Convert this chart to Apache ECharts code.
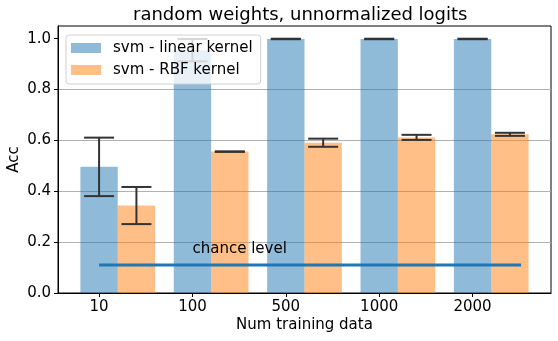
<!DOCTYPE html>
<html>
<head>
<meta charset="utf-8">
<script src="https://cdn.jsdelivr.net/npm/echarts@6/dist/echarts.min.js"></script>
<style>
  html, body { margin: 0; padding: 0; background: #fff; }
  #chartBox { width: 558px; height: 341px; }
</style>
</head>
<body>
<div id="chartBox"></div>
<script>
    // x categories (number of training samples)
    var categories = ['10', '100', '500', '1000', '2000'];
    // accuracy means and std
    var linearAcc = [0.496, 0.955, 0.999, 0.999, 0.999];
    var linearStd = [0.115, 0.044, 0.001, 0.001, 0.001];
    var rbfAcc = [0.344, 0.556, 0.591, 0.612, 0.624];
    var rbfStd = [0.073, 0.001, 0.016, 0.010, 0.006];
    var chanceLevel = 0.11;
    var chanceSpan = [0, 4.52];
    var yTicks = [0, 0.2, 0.4, 0.6, 0.8, 1.0];
    var xTicks = [0, 1, 2, 3, 4];

    var barW = 0.4;
    var font = 'DejaVu Sans';

    var linearData = [], rbfData = [], errData = [];
    for (var i = 0; i < categories.length; i++) {
        linearData.push([i, linearAcc[i]]);
        rbfData.push([i + barW, rbfAcc[i]]);
        errData.push([i, linearAcc[i] - linearStd[i], linearAcc[i] + linearStd[i]]);
        errData.push([i + barW, rbfAcc[i] - rbfStd[i], rbfAcc[i] + rbfStd[i]]);
    }

    function renderBar(params, api) {
        var x = api.value(0);
        var p0 = api.coord([x - barW / 2, api.value(1)]);
        var p1 = api.coord([x + barW / 2, 0]);
        return {
            type: 'rect',
            shape: { x: p0[0], y: p0[1], width: p1[0] - p0[0], height: p1[1] - p0[1] },
            style: { fill: api.visual('color') }
        };
    }

    function renderErr(params, api) {
        var x = api.value(0);
        var lo = api.coord([x, api.value(1)]);
        var hi = api.coord([x, api.value(2)]);
        var cap = 15;
        var st = { stroke: '#333', lineWidth: 2 };
        return {
            type: 'group',
            children: [
                { type: 'line', shape: { x1: lo[0], y1: lo[1], x2: hi[0], y2: hi[1] }, style: st },
                { type: 'line', shape: { x1: lo[0] - cap, y1: lo[1], x2: lo[0] + cap, y2: lo[1] }, style: st },
                { type: 'line', shape: { x1: hi[0] - cap, y1: hi[1], x2: hi[0] + cap, y2: hi[1] }, style: st }
            ]
        };
    }

    var chart = echarts.init(document.getElementById('chartBox'));
    chart.setOption({
        animation: false,
        textStyle: { fontFamily: font },
        graphic: [{
            type: 'text',
            left: 133,
            top: 6,
            style: { text: 'random weights, unnormalized logits', font: '18px "DejaVu Sans"', fill: '#000' }
        }],
        grid: {
            left: 58, right: 7, top: 26, bottom: 48,
            outerBoundsMode: 'none',
            containLabel: false,
            show: true, borderColor: '#000', borderWidth: 1, backgroundColor: 'transparent'
        },
        legend: {
            orient: 'vertical',
            left: 66, top: 35,
            padding: [4, 8, 5, 5],
            itemGap: 4,
            itemWidth: 30, itemHeight: 10,
            backgroundColor: 'rgba(255,255,255,0.8)',
            borderColor: '#d0d0d0', borderWidth: 1, borderRadius: 3,
            textStyle: { fontFamily: font, fontSize: 15, color: '#000', lineHeight: 18, padding: [0, 0, 0, 7] },
            data: [
                { name: 'svm - linear kernel', icon: 'rect' },
                { name: 'svm - RBF kernel', icon: 'rect' }
            ]
        },
        xAxis: {
            type: 'value',
            min: -0.44, max: 4.84,
            name: 'Num training data',
            nameLocation: 'middle',
            nameGap: 25,
            nameMoveOverlap: false,
            nameTextStyle: { fontFamily: font, fontSize: 15, color: '#000' },
            axisLine: { show: true, onZero: false, lineStyle: { color: '#000', width: 1 } },
            axisTick: { show: true, length: 4, customValues: xTicks, lineStyle: { color: '#000' } },
            axisLabel: {
                customValues: xTicks, margin: 7,
                fontFamily: font, fontSize: 15, color: '#000',
                formatter: function (v) { return categories[Math.round(v)]; }
            },
            splitLine: { show: false }
        },
        yAxis: {
            type: 'value',
            min: 0, max: 1.05,
            name: 'Acc',
            nameLocation: 'middle',
            nameRotate: 90,
            nameGap: 36,
            nameMoveOverlap: false,
            nameTextStyle: { fontFamily: font, fontSize: 15, color: '#000' },
            axisLine: { show: true, onZero: false, lineStyle: { color: '#000', width: 1 } },
            axisTick: { show: true, length: 4, customValues: yTicks, lineStyle: { color: '#000' } },
            axisLabel: {
                customValues: yTicks, margin: 7,
                fontFamily: font, fontSize: 15, color: '#000',
                formatter: function (v) { return v.toFixed(1); }
            },
            splitLine: { show: true, showMinLine: false, showMaxLine: false, lineStyle: { color: '#b0b0b0', width: 1 } }
        },
        series: [
            {
                name: 'svm - linear kernel',
                type: 'custom',
                renderItem: renderBar,
                itemStyle: { color: 'rgba(31,119,180,0.5)' },
                encode: { x: 0, y: 1 },
                data: linearData,
                z: 2
            },
            {
                name: 'svm - RBF kernel',
                type: 'custom',
                renderItem: renderBar,
                itemStyle: { color: 'rgba(255,127,14,0.5)' },
                encode: { x: 0, y: 1 },
                data: rbfData,
                z: 2
            },
            {
                name: 'err',
                type: 'custom',
                renderItem: renderErr,
                encode: { x: 0, y: [1, 2] },
                data: errData,
                z: 3
            },
            {
                name: 'chance',
                type: 'line',
                data: [[chanceSpan[0], chanceLevel], [chanceSpan[1], chanceLevel]],
                symbol: 'none',
                lineStyle: { color: '#1f77b4', width: 3 },
                z: 3
            },
            {
                name: 'chanceText',
                type: 'custom',
                data: [[1, 0.145]],
                renderItem: function (params, api) {
                    var p = api.coord([api.value(0), api.value(1)]);
                    return {
                        type: 'text',
                        x: p[0], y: p[1],
                        style: { text: 'chance level', font: '15px "DejaVu Sans"', fill: '#000', textAlign: 'left', textVerticalAlign: 'bottom' }
                    };
                },
                z: 4
            }
        ]
    });
</script>
</body>
</html>
